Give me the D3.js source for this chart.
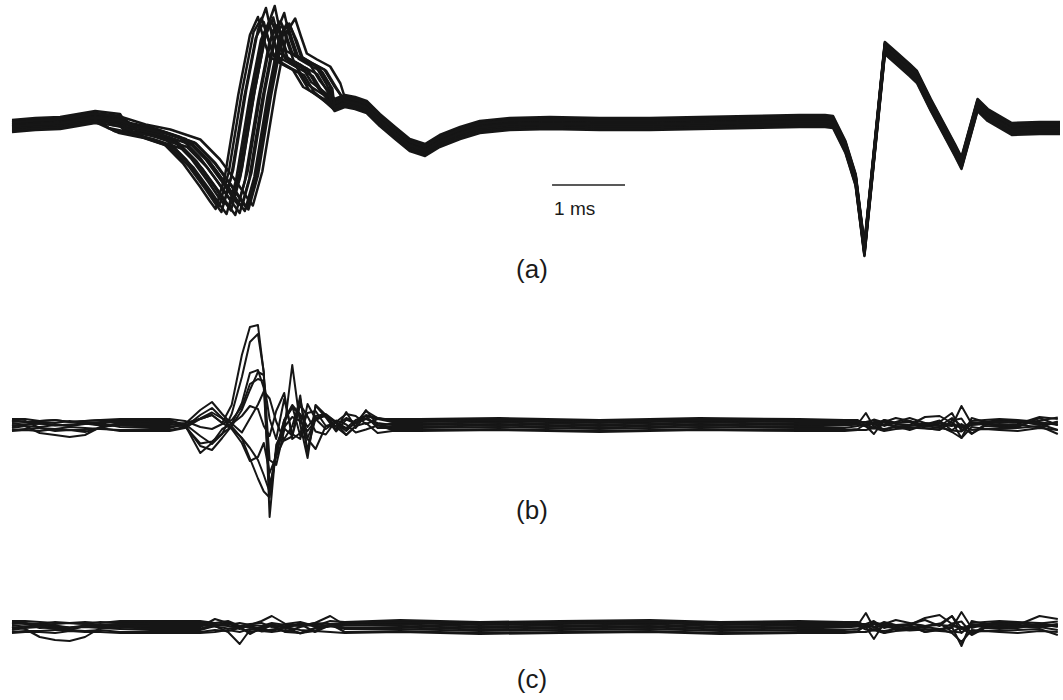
<!DOCTYPE html>
<meta charset="utf-8">
<title>Sweeps</title>
<style>
  body { margin: 0; background: #fff; }
  path.sweep {
    fill: none;
    stroke: #161616;
    stroke-linejoin: round;
  }
  text {
    font-family: "Liberation Sans", Arial, sans-serif;
    fill: #1a1a1a;
  }
</style>
<body>
<script src="https://cdn.jsdelivr.net/npm/d3@7"></script>
<script>

// time in ms, amplitude in arbitrary units (up = positive)

// ---- panel (a): raw sweeps ----
var aBaseT = [0, 0.32, 0.66, 1.14, 1.48,
  4.42, 4.56, 4.70, 4.86, 5.04, 5.25, 5.45, 5.66, 5.86, 6.14, 6.41, 6.82, 7.37, 8.05, 8.74, 9.42, 10.11, 10.79,
  11.14, 11.25, 11.42, 11.56, 11.68, 11.96, 12.10, 12.30, 12.40, 12.59, 12.92, 13.01, 13.23, 13.37, 13.70, 14.08, 14.36];
var aBaseV = [-1, 1, 2, 8, 5,
  20, 24, 22, 18, 5, -8, -20, -25, -16, -8, -2, 1, 2, 1, 1, 2, 3, 4,
  4, 3, -22, -55, -125, 77, 68, 55, 48, 20, -25, -38, 20, 10, -4, -3, -3];

// first component, relative to its peak (ms) -- latency jitters from sweep to sweep
var aSpikeRel = [-2.05, -1.71, -1.30, -1.03, -0.79, -0.66, -0.58, -0.45, -0.27, -0.11, 0, 0.08, 0.16, 0.30, 0.48, 0.62];
var aSpikeV   = [-3, -8, -18, -38, -62, -76, -84, -50, 30, 90, 108, 85, 68, 62, 55, 38];
var aPeakIdx = 10;
var aPeakTimes   = [3.37, 3.42, 3.45, 3.48, 3.52, 3.56, 3.58, 3.60, 3.64, 3.68, 3.70, 3.73, 3.77, 3.80, 3.82, 3.88];
var aPeakHeights = [108, 104, 106, 112, 108, 102, 109, 113, 106, 100, 104, 110, 104, 101, 98, 103];
var aOffsets = [0, 3, -3, 5, -5, 1.5, -1.5, 6, -6, 4, -4, 2, -2, 0.5, -0.5, 3.5];

// ---- panel (b): after removing the mean ----
var bBaseT = [1.89, 5.59, 6.68, 8.05, 9.42, 10.79];
var bBaseV = [0, 0, 1, -1, 1, 0];
var bStartT = [0, 0.18, 0.38, 0.59, 0.79, 1.00, 1.21, 1.48];
var bStart = [
  [0, -1, -8, -10, -12, -10, -2, 0],
  [0, 1, -6, -9, -8, -10, -6, -1],
  [0, 2, 1, 3, 2, 4, 5, 1],
  [0, -2, -1, 0, -2, -1, 0, -1],
  [0, 1, 2, 1, 3, 2, 1, 0],
  [0, -1, 0, -2, -1, 0, -2, 0],
  [0, 2, 3, 2, 1, 3, 2, 1],
  [0, 0, -2, -1, -3, -2, -1, 0],
  [0, 1, 0, 2, 1, 1, 3, 0],
  [0, -1, -1, -2, 0, -2, -1, -1]
];
var bMidT = [2.16, 2.37, 2.58, 2.74, 2.88, 3.01, 3.15, 3.26, 3.37, 3.45, 3.53, 3.62,
  3.73, 3.84, 3.95, 4.05, 4.16, 4.30, 4.44, 4.58, 4.71, 4.85, 5.01, 5.21];
var bMid = [
  [0, 2, 6, 10, 2, 20, 70, 98, 100, 52, -92, -20, -2, 8, 4, -6, 5, 10, 3, -4, 2, 6, 2, 0],
  [0, -2, -14, -22, -12, 8, 45, 80, 88, 50, -72, -30, 2, 14, 8, -5, 6, 8, 0, -6, 2, 6, 3, 0],
  [0, 4, 18, 26, 14, 4, 25, 55, 58, 40, -58, -28, 6, 22, -8, -10, 10, 12, 5, -3, 6, 12, 0, 0],
  [0, -5, -26, -30, -18, -6, 10, 30, 48, 45, -40, -45, -10, 55, -5, -38, 15, 5, -10, 8, -8, 5, 2, 0],
  [0, 3, 15, 22, 12, 2, -8, -18, -30, -45, -62, -20, 10, 25, 15, -20, 12, 15, 3, -5, 4, 20, 5, 0],
  [0, -3, -20, -18, -10, -3, -15, -35, -55, -68, -74, -28, -5, -12, 28, -30, 18, 6, -8, 4, 0, 5, -2, 0],
  [0, 1, 8, 14, 8, 3, -6, 8, 22, 35, 28, 5, -14, -10, 22, 10, -5, -8, 6, 2, -6, -3, 1, 0],
  [0, -2, -8, -10, -5, -1, 12, 35, 40, 38, 0, -20, 20, -15, -20, 15, 0, -10, -3, 5, 3, -5, 0, 0],
  [0, 3, 12, 16, 8, 2, -12, -30, -26, -12, -42, -25, -8, 5, 32, -8, -18, 5, 8, -4, 5, 8, -2, 0],
  [0, -4, -32, -22, -8, -3, 5, 15, 12, -5, -15, 10, 28, -18, -12, 8, 10, -5, -5, 3, -2, 10, 3, 0]
];
var lateT = [11.41, 11.59, 11.70, 11.81, 11.95, 12.11, 12.30, 12.51, 12.71, 12.88, 13.01, 13.15, 13.33, 13.53, 13.78, 14.08, 14.33];
var bLate = [
  [0, 1, 12, -2, 3, 1, 0, 8, 9, 2, -3, 0, 1, 0, 1, 8, 6],
  [0, -1, -4, -12, 2, -1, 1, -6, -8, 0, -16, 4, 0, -1, 0, -2, -8],
  [0, 2, 3, 5, -2, 2, -2, 3, 2, 10, 2, -6, 2, 1, 1, 10, 3],
  [0, -2, -2, 0, -6, -2, 2, -3, -5, -6, 14, -4, -2, 0, -1, -5, -2],
  [0, 1, 6, 2, 1, 3, 4, 7, 4, -2, -8, 3, 1, 1, 2, 4, -4],
  [0, 0, -3, -5, -1, -3, -4, -5, -6, 3, 5, -10, -1, -2, -1, -4, 2],
  [1, 2, 2, 7, 4, 0, 1, 2, 6, -4, -5, 2, 3, 2, 1, 6, 9],
  [-1, -1, -6, -3, -3, 1, -2, -6, -3, 6, -12, -2, -1, 0, -1, -3, -6],
  [0, 1, 1, 3, 0, 2, 3, 5, 3, 1, 7, 1, 2, 1, 0, 3, 1],
  [0, -1, -1, -4, 1, -2, -1, -4, -2, -4, -6, -2, -1, -1, 0, -2, -3]
];
var bOffsets = [0, 3, -3, 5, -5, 1.5, -1.5, 6, -6, 4];

// ---- panel (c): residual ----
var cBaseT = [1.89, 5.32, 6.41, 7.51, 8.74, 9.70, 10.79];
var cBaseV = [0, 1, -1, 0, 1, -1, 0];
var cStart = [
  [0, -2, -10, -13, -14, -10, -1, 0],
  [0, 1, -4, -3, -6, -2, -1, 0],
  [0, 2, 3, 1, 2, 3, 2, 1],
  [0, -1, -2, 0, -1, -2, 0, -1],
  [0, 1, 1, 2, 2, 1, 2, 0],
  [0, -1, 0, -1, -2, 0, -1, 0],
  [0, 2, 2, 3, 1, 2, 3, 1],
  [0, 0, -1, -2, -2, -1, -2, 0],
  [0, 1, 1, 0, 2, 1, 1, 0],
  [0, -1, -2, -1, 0, -1, -2, -1]
];
var cMidT = [2.58, 2.78, 2.96, 3.12, 3.26, 3.42, 3.56, 3.75, 3.95, 4.15, 4.36, 4.56];
var cMid = [
  [0, 8, 4, -2, 2, 6, 11, 3, 1, 4, 11, 2],
  [0, -2, -8, -20, -6, -3, -2, -8, -9, -4, -2, 0],
  [0, 4, 8, 3, -4, 2, 5, -2, 3, 6, 4, 1],
  [0, -3, -4, -6, -10, -8, -3, -6, -2, -10, -3, -1],
  [0, 2, 1, 4, 6, 3, 1, 5, 2, 1, 8, 0],
  [0, -1, -3, -2, -1, -6, -4, -2, -8, -3, -1, 0],
  [0, 3, 6, 2, 1, 0, 4, 2, 5, 2, 3, 1],
  [0, -2, 0, -5, -3, -2, -6, -3, -1, -5, 0, -1],
  [0, 1, 3, 1, 4, 2, 1, 3, 0, 2, 1, 0],
  [0, -1, -2, 0, -2, -3, 0, -2, -3, 0, -1, 0]
];
var cLate = [
  [0, 2, 14, -1, 2, 1, 2, 9, 12, 3, -2, 1, 0, 1, 2, 11, 8],
  [0, -1, -3, -15, 1, -2, -1, -8, -6, -3, -22, 3, 0, -1, -1, -3, -6],
  [0, 1, 4, 3, -3, 2, 6, 10, 4, 14, 2, -5, 2, 1, 2, 6, 3],
  [0, -2, -2, 1, -6, -3, -4, -10, -7, -6, 10, -6, -2, 0, -1, -4, -2],
  [0, 1, 6, 2, 1, 3, 3, 5, 3, -1, -10, 2, 1, 1, 2, 3, -3],
  [0, 0, -4, -5, -1, -3, -5, -4, -5, 2, 4, -8, -1, -2, -1, -2, 1],
  [1, 2, 2, 6, 4, 0, 1, 2, 5, -3, -4, 2, 3, 2, 1, 5, 7],
  [-1, -1, -5, -3, -3, 1, -2, -5, -3, 5, -12, -2, -1, 0, -1, -2, -5],
  [0, 1, 1, 3, 0, 2, 3, 4, 2, 1, 6, 1, 2, 1, 0, 2, 1],
  [0, -1, -1, -4, 1, -2, -1, -3, -2, -3, -5, -2, -1, -1, 0, -2, -3]
];
var cOffsets = [0, 3, -3, 5, -5, 1.5, -1.5, 6, -6, 4];

var panelLabels = ['(a)', '(b)', '(c)'];
var scaleBarMs = 1;

var W = 1063, H = 700;
var svg = d3.select('body').append('svg').attr('width', W).attr('height', H);

var x = d3.scaleLinear().domain([0, 14.36]).range([12, 1060]);

function yFor(base) {
  return d3.scaleLinear().domain([-150, 150]).range([base + 150, base - 150]);
}

// merge base trace with the sweep's own segments, then add the sweep offset
function buildSweep(baseT, baseV, segs, offset) {
  var pts = [];
  baseT.forEach(function(t, i) {
    var inside = segs.some(function(s) { return t >= s.t[0] && t <= s.t[s.t.length - 1]; });
    if (!inside) pts.push([t, baseV[i]]);
  });
  segs.forEach(function(s) {
    s.t.forEach(function(t, i) { pts.push([t, s.v[i]]); });
  });
  pts.sort(function(a, b) { return a[0] - b[0]; });
  return pts.map(function(p) { return [p[0], p[1] + offset]; });
}

function drawPanel(sweeps, base, sw) {
  var y = yFor(base);
  var line = d3.line().x(function(d) { return x(d[0]); }).y(function(d) { return y(d[1]); });
  svg.append('g').selectAll('path').data(sweeps)
    .enter().append('path')
    .attr('class', 'sweep')
    .attr('stroke-width', sw)
    .attr('d', line);
}

// panel a
var aSweeps = aPeakTimes.map(function(pt, i) {
  var seg = {
    t: aSpikeRel.map(function(r) { return r + pt; }),
    v: aSpikeV.map(function(v, j) { return j === aPeakIdx ? aPeakHeights[i] : v; })
  };
  return buildSweep(aBaseT, aBaseV, [seg], aOffsets[i]);
});
drawPanel(aSweeps, 125, 2.5);

// panel b
var bSweeps = bOffsets.map(function(off, i) {
  return buildSweep(bBaseT, bBaseV,
    [{t: bStartT, v: bStart[i]}, {t: bMidT, v: bMid[i]}, {t: lateT, v: bLate[i]}], off);
});
drawPanel(bSweeps, 425, 2);

// panel c
var cSweeps = cOffsets.map(function(off, i) {
  return buildSweep(cBaseT, cBaseV,
    [{t: bStartT, v: cStart[i]}, {t: cMidT, v: cMid[i]}, {t: lateT, v: cLate[i]}], off);
});
drawPanel(cSweeps, 627, 2);

// scale bar
svg.append('line')
  .attr('x1', x(7.4)).attr('x2', x(7.4 + scaleBarMs))
  .attr('y1', 185).attr('y2', 185)
  .attr('stroke', '#222').attr('stroke-width', 1.5);
svg.append('text')
  .attr('x', x(7.4) + 2).attr('y', 215)
  .attr('font-size', 19)
  .text(scaleBarMs + ' ms');

// panel labels
svg.selectAll('text.lbl').data(panelLabels)
  .enter().append('text')
  .attr('class', 'lbl')
  .attr('x', 532)
  .attr('y', function(d, i) { return [278, 519, 688][i]; })
  .attr('text-anchor', 'middle')
  .attr('font-size', 26)
  .text(function(d) { return d; });

</script>
</body>
